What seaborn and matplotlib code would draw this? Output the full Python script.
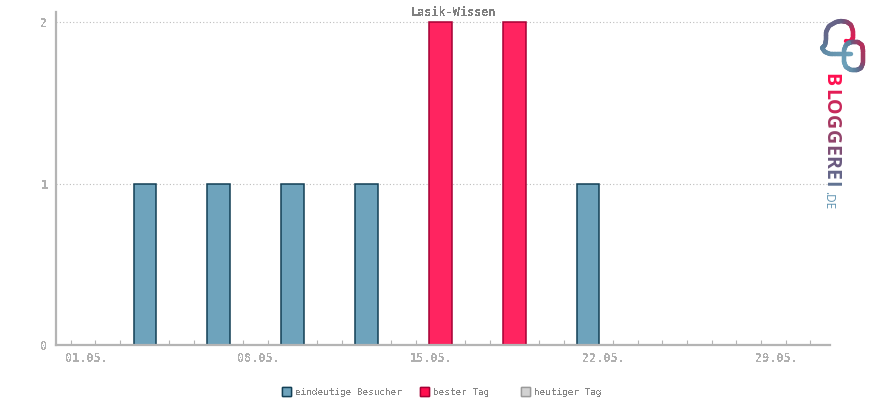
import numpy as np
import pandas as pd
import seaborn as sns
import matplotlib
matplotlib.use("Agg")
import matplotlib.pyplot as plt
from matplotlib.patches import Patch
from matplotlib.collections import LineCollection
from matplotlib.transforms import ScaledTranslation
from matplotlib.colors import LinearSegmentedColormap

title = "Lasik-Wissen"
visitor_days = [3, 6, 9, 12, 21]
visitor_values = [1, 1, 1, 1, 1]
best_days = [15, 18]
best_values = [2, 2]
date_ticks = [0, 7, 14, 21, 28]
date_labels = ["01.05.", "08.05.", "15.05.", "22.05.", "29.05."]
day_ticks = list(range(31))
y_ticks = [0, 1, 2]
legend_names = ["eindeutige Besucher", "bester Tag", "heutiger Tag"]

sns.set_theme(style="white")
plt.rcParams["font.family"] = ["DejaVu Sans Mono"]
plt.rcParams["text.antialiased"] = False

W, H = 870, 400
fig = plt.figure(figsize=(W / 100, H / 100), dpi=100, facecolor="white")
ax = fig.add_axes([56 / W, 1 - 345 / H, (830 - 56) / W, (345 - 12) / H])

AX = "#b4b4b4"
sns.barplot(x=visitor_days, y=visitor_values, native_scale=True, width=0.3,
            color="#6ea3bc", saturation=1, edgecolor="#123f55", linewidth=1.1, ax=ax)
sns.barplot(x=best_days, y=best_values, native_scale=True, width=0.3,
            color="#ff2460", saturation=1, edgecolor="#a50034", linewidth=1.1, ax=ax)

ax.set_xlim(-0.595, 30.8)
ax.set_ylim(0, 2.062)
ax.set_xlabel("")
ax.set_ylabel("")
for s in ("top", "right"):
    ax.spines[s].set_visible(False)
for s in ("left", "bottom"):
    ax.spines[s].set_color(AX)
    ax.spines[s].set_linewidth(1.6)

ax.set_yticks(y_ticks)
ax.set_yticklabels([str(v) for v in y_ticks], fontsize=8.5, color="#b0b0b0", fontweight="bold")
ax.tick_params(axis="y", length=4, width=0.8, color=AX, pad=2)
ax.set_xticks(day_ticks)
ax.set_xticklabels([date_labels[date_ticks.index(d)] if d in date_ticks else "" for d in day_ticks],
                   fontsize=8.5, color="#b0b0b0", fontweight="bold")
ax.tick_params(axis="x", direction="in", length=3.5, width=0.8, color=AX, pad=5, bottom=True)
shift = ScaledTranslation(15.5 / 100, 0, fig.dpi_scale_trans)
for lab in ax.get_xticklabels():
    lab.set_transform(lab.get_transform() + shift)

ax.set_axisbelow(True)
ax.yaxis.grid(True, linestyle=(0, (1, 2)), color="#bdbdbd", linewidth=0.8)
ax.xaxis.grid(False)

fig.text(453 / W, 1 - 12 / H, title, ha="center", va="center", fontsize=8.5,
         fontweight="bold", color="#808080")

# legend, one entry per anchor so the spacing follows the reference
styles = [("#6ea3bc", "#123f55", 283), ("#ff0f4f", "#a50034", 421), ("#d2d2d2", "#9a9a9a", 522)]
for name, (fc, ec, x0) in zip(legend_names, styles):
    leg = fig.legend(handles=[Patch(facecolor=fc, edgecolor=ec, linewidth=1.0, label=name)],
                     loc="center left", bbox_to_anchor=((x0 - 1) / W, 1 - 392 / H),
                     frameon=False, fontsize=6.7, handlelength=1.0, handleheight=1.1,
                     handletextpad=0.35, borderpad=0, borderaxespad=0, labelcolor="#858585")
    fig.add_artist(leg)

# logo, in pixel coordinates
logo = fig.add_axes([0, 0, 1, 1], zorder=5)
logo.set_xlim(0, W)
logo.set_ylim(H, 0)
logo.axis("off")
logo.patch.set_alpha(0)
cmap = LinearSegmentedColormap.from_list("b", ["#ff0f4f", "#a8365f", "#6a5a80", "#5b7f9c", "#6ea3bc"])

def stroke(pts, vals, lw=3.2):
    pts = np.array(pts, float)
    t = np.linspace(0, len(pts) - 1, 80)
    xs = np.interp(t, np.arange(len(pts)), pts[:, 0])
    ys = np.interp(t, np.arange(len(pts)), pts[:, 1])
    cs = np.interp(t, np.arange(len(vals)) * (len(pts) - 1) / (len(vals) - 1), vals)
    segs = np.stack([np.c_[xs[:-1], ys[:-1]], np.c_[xs[1:], ys[1:]]], axis=1)
    logo.add_collection(LineCollection(segs, colors=cmap(cs[:-1]), linewidth=lw, capstyle="round"))

stroke([(846, 41), (850, 42), (853, 38), (853, 31), (851, 25), (847, 22), (841, 21), (836, 22),
        (829, 26), (826, 32), (826, 40), (825, 45), (822, 48), (825, 52), (830, 54), (843, 54), (851, 54)],
       [0.0, 0.15, 0.55, 0.6, 0.8, 1.0])
stroke([(848, 43), (852, 42), (858, 42), (862, 45), (863, 50), (863, 63), (861, 68), (857, 70),
        (851, 70), (846, 67), (844, 62), (844, 50), (846, 45), (849, 43)],
       [0.75, 0.4, 0.2, 0.3, 0.55, 0.85, 1.0, 0.9, 0.75])

letters = "BLOGGEREI"
letter_y = [80, 94.5, 107, 122, 137, 150, 162, 174, 184]
letter_c = [0.0, 0.08, 0.16, 0.26, 0.34, 0.42, 0.5, 0.58, 0.66]
for ch, y, c in zip(letters, letter_y, letter_c):
    logo.text(830.5, y, ch, rotation=-90, ha="center", va="center", fontsize=14,
              fontweight="bold", family="Open Sans", color=cmap(c), antialiased=True)
logo.text(829, 200, ".DE", rotation=-90, ha="center", va="center", fontsize=8.5,
          family="Open Sans", color="#5f93b0", antialiased=True)

fig.savefig("out.png", dpi=100, facecolor="white")
